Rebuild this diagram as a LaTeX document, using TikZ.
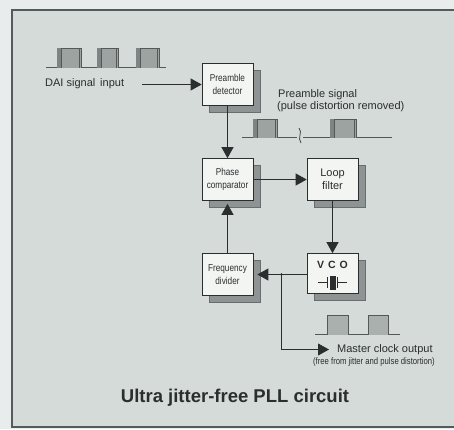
\documentclass[tikz,border=0pt]{standalone}
\usepackage{fontspec}
\setmainfont{Liberation Sans}
\newfontfamily\narrowfont[FakeStretch=0.82]{Liberation Sans}
\usetikzlibrary{arrows.meta,shadows}
\definecolor{outerbg}{HTML}{E8ECEC}
\definecolor{innerbg}{HTML}{D5DBD9}
\definecolor{framecol}{HTML}{555A5A}
\definecolor{boxfill}{HTML}{F3F5F3}
\definecolor{shadowcol}{HTML}{8E9493}
\definecolor{pulsecol}{HTML}{9DA3A1}
\definecolor{pulsedark}{HTML}{7E8483}
\definecolor{clockpulse}{HTML}{AAB0AE}
\definecolor{inkcol}{HTML}{2A2E2E}
\tikzset{
  blk/.style={draw=inkcol, line width=0.7pt, fill=boxfill, minimum width=51pt, minimum height=42pt,
    inner sep=0pt, align=center, text=inkcol,
    drop shadow={shadow xshift=7pt, shadow yshift=-7pt, fill=shadowcol, draw=inkcol!70, opacity=1}},
  smalltxt/.style={font=\narrowfont\fontsize{10}{12}\selectfont},
  bigtxt/.style={font=\fontsize{11}{13}\selectfont},
  lbl/.style={text=inkcol, inner sep=0pt},
  arr/.style={draw=inkcol, line width=0.8pt, -{Triangle[length=11pt,width=12pt]}},
  wire/.style={draw=inkcol, line width=0.8pt},
  pulse/.style={draw=inkcol!80, line width=0.5pt, fill=pulsecol},
  base/.style={draw=inkcol!80, line width=0.7pt}
}
\begin{document}
\begin{tikzpicture}[x=1pt,y=-1pt]
\useasboundingbox (0,0) rectangle (454,429);
\fill[outerbg] (0,0) rectangle (454,429);
\filldraw[fill=innerbg, draw=framecol, line width=1.2pt] (12,10) rectangle (460,427);

% DAI input pulses
\draw[base] (46,67.5) -- (166,67.5);
\foreach \a/\b in {57/81, 97/118, 136/159}{
  \draw[pulse] (\a,67.5) -- (\a,48) -- (\b,48) -- (\b,67.5);
  \fill[pulsedark] (\a,48) rectangle (\a+4,67.5);
  \draw[inkcol!80, line width=0.4pt] (\a+4,48) -- (\a+4,67.5) (\b-2,48) -- (\b-2,67.5);
}
\node[lbl, anchor=west, bigtxt] (dai) at (45,84) {DAI signal\, input};
\coordinate (daiin) at (142,84.5);

% blocks
\node[blk, smalltxt] (pre) at (227.5,84.5) {Preamble\\[1pt]detector};
\node[blk, smalltxt] (phase) at (227.5,179.5) {Phase\\[1pt]comparator};
\node[blk, font=\fontsize{11}{13.5}\selectfont] (loop) at (332.5,179.5) {Loop\\filter};
\node[blk, minimum height=40pt] (vco) at (332.5,273.5) {};
\node[lbl, font=\bfseries\fontsize{10.5}{12}\selectfont] (vcot) at (332.5,265) {V\hspace{4pt}C\hspace{4pt}O};
\node[blk, smalltxt] (freq) at (227.5,274.5) {Frequency\\[1pt]divider};

% crystal symbol
\draw[wire] (318,282.5) -- (327,282.5) (338,282.5) -- (347,282.5);
\draw[wire] (327.5,277) -- (327.5,288) (337.5,277) -- (337.5,288);
\filldraw[fill=inkcol, draw=inkcol, line width=0.4pt] (330,276) rectangle (335,289);

% preamble signal
\node[lbl, anchor=west, bigtxt] (pstxt) at (278,95) {Preamble signal};
\node[lbl, anchor=west, bigtxt] (pstxt2) at (277,107) {(pulse distortion removed)};
\draw[base] (242,137.5) -- (297,137.5) (303,137.5) -- (392,137.5);
\foreach \a/\b in {253/277, 330/356}{
  \draw[pulse] (\a,137.5) -- (\a,119) -- (\b,119) -- (\b,137.5);
  \fill[pulsedark] (\a,119) rectangle (\a+4,137.5);
  \draw[inkcol!80, line width=0.4pt] (\a+4,119) -- (\a+4,137.5) (\b-2,119) -- (\b-2,137.5);
}
\draw[inkcol, line width=0.7pt] (299,128) .. controls (303,132) and (297,138) .. (301,143);

% connectors
\draw[arr] (daiin) -- (pre.west);
\draw[arr] (pre) -- (phase);
\draw[arr] (phase.east) -- (loop.west);
\draw[arr] (loop) -- (vco);
\coordinate (junc) at (281.5,274.5);
\draw[arr] (vco.west |- junc) -- ([xshift=4pt]freq.east);
\fill[inkcol] (junc) circle (1.4pt);
\coordinate (bend) at (281.5,349.5);
\coordinate (mout) at (329,349.5);
\draw[arr] (junc) -- (bend) -- (mout);
\draw[arr] (freq) -- ([yshift=-3pt]phase.south);

% master clock pulses
\draw[base] (315,334.5) -- (400,334.5);
\foreach \a/\b in {327/348, 368/388}{
  \draw[pulse, fill=clockpulse] (\a,334.5) -- (\a,315) -- (\b,315) -- (\b,334.5);
}
\node[lbl, anchor=west, bigtxt] (mctxt) at (337,350) {Master clock output};
\node[lbl, anchor=east, font=\narrowfont\fontsize{9.4}{11}\selectfont] (mctxt2) at (435,362) {(free from jitter and pulse distortion)};

% title
\node[lbl, font=\bfseries\fontsize{18.5}{22}\selectfont] (title) at (235,398) {Ultra jitter-free PLL circuit};
\end{tikzpicture}
\end{document}
